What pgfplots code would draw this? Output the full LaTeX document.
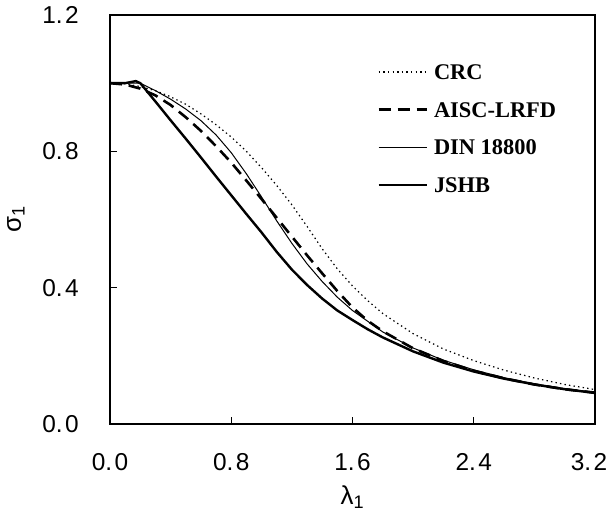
\documentclass[border=0pt]{standalone}
\usepackage{fontspec}
\setmainfont{Liberation Sans}
\newfontfamily\legfont{Liberation Serif}
\usepackage{pgfplots}
\pgfplotsset{compat=1.18}
\usepackage{pgfplotstable}

% sigma_1 against lambda_1
\pgfplotstableread{
x y
0 1.000
0.1 0.998
0.2 0.990
0.3 0.978
0.4 0.960
0.5 0.938
0.6 0.910
0.7 0.878
0.8 0.842
0.9 0.800
1.0 0.752
1.1 0.700
1.2 0.643
1.3 0.580
1.4 0.514
1.5 0.455
1.6 0.405
1.7 0.362
1.8 0.324
2.0 0.265
2.2 0.220
2.4 0.186
2.6 0.158
2.8 0.135
3.0 0.116
3.2 0.101
}\crc

\pgfplotstableread{
x y
0 1.000
0.1 0.996
0.2 0.984
0.3 0.964
0.4 0.936
0.5 0.900
0.6 0.860
0.7 0.815
0.8 0.767
0.9 0.714
1.0 0.660
1.1 0.605
1.2 0.550
1.3 0.495
1.4 0.442
1.5 0.390
1.6 0.342
1.7 0.303
1.8 0.272
2.0 0.222
2.2 0.185
2.4 0.156
2.6 0.134
2.8 0.116
3.0 0.102
3.2 0.092
}\aisc

\pgfplotstableread{
x y
0 1.000
0.1 1.000
0.2 1.000
0.3 0.978
0.4 0.953
0.5 0.924
0.6 0.890
0.7 0.848
0.8 0.796
0.9 0.734
1.0 0.666
1.1 0.596
1.2 0.530
1.3 0.470
1.4 0.418
1.5 0.372
1.6 0.333
1.8 0.270
2.0 0.223
2.2 0.187
2.4 0.159
2.6 0.136
2.8 0.118
3.0 0.104
3.2 0.093
}\din

\pgfplotstableread{
x y
0 1.000
0.1 1.000
0.17 1.006
0.2 1.000
0.3 0.946
0.4 0.891
0.5 0.837
0.6 0.782
0.7 0.726
0.8 0.671
0.9 0.616
1.0 0.562
1.1 0.505
1.2 0.453
1.3 0.408
1.4 0.368
1.5 0.333
1.6 0.305
1.7 0.278
1.8 0.254
2.0 0.213
2.2 0.180
2.4 0.154
2.6 0.133
2.8 0.116
3.0 0.102
3.2 0.091
}\jshb

\begin{document}
\begin{tikzpicture}
\begin{axis}[
    scale only axis,
    width=485bp, height=409bp,
    xmin=0, xmax=3.2, ymin=0, ymax=1.2,
    xtick={0,0.8,1.6,2.4,3.2},
    xticklabels={0.\hspace{2.5bp}0,0.\hspace{2.5bp}8,1.\hspace{2.5bp}6,2.\hspace{2.5bp}4,\hspace{-12bp}3.\hspace{2.5bp}2},
    ytick={0,0.4,0.8,1.2},
    yticklabels={0.\hspace{2.5bp}0,0.\hspace{2.5bp}4,0.\hspace{2.5bp}8,1.\hspace{2.5bp}2},
    tick align=inside,
    tick pos=left,
    major tick length=7bp,
    every tick/.style={black, line width=0.8bp},
    axis line style={line width=1.2bp},
    tick label style={font=\fontsize{24.5}{25}\selectfont, inner sep=0pt},
    xticklabel style={yshift=-29bp},
    yticklabel style={xshift=-31bp},
    xlabel={λ\textsubscript{1}},
    ylabel={σ\textsubscript{1}},
    xlabel style={at={(axis description cs:0.5,-0.198)}, anchor=base, inner sep=0pt, font=\fontsize{26}{26}\selectfont},
    ylabel style={at={(axis description cs:-0.194,0.5)}, anchor=center, font=\fontsize{26}{26}\selectfont},
    legend style={draw=none, fill=none, at={(0.551,0.887)}, anchor=north west,
        font=\legfont\fontsize{22.5}{22.5}\selectfont\bfseries,
        inner sep=0pt, row sep=16.7bp,
        nodes={text height=15bp, text depth=0bp, inner sep=3bp},
        cells={anchor=west},
        /tikz/every odd column/.style={column sep=3bp}},
    legend image code/.code={\draw[#1] (0bp,0bp) -- (48bp,0bp);},
]
\addplot[black, line width=1.2bp, dash pattern=on 1.4bp off 3.2bp] table {\crc};
\addplot[black, line width=2.6bp, dash pattern=on 12bp off 7bp] table {\aisc};
\addplot[black, line width=1bp] table {\din};
\addplot[black, line width=2.4bp] table {\jshb};
\legend{CRC, AISC-LRFD, DIN 18800, JSHB}
\end{axis}
\pgfresetboundingbox
\path[use as bounding box] (-110bp,-90bp) rectangle (499bp,424bp);
\end{tikzpicture}
\end{document}
